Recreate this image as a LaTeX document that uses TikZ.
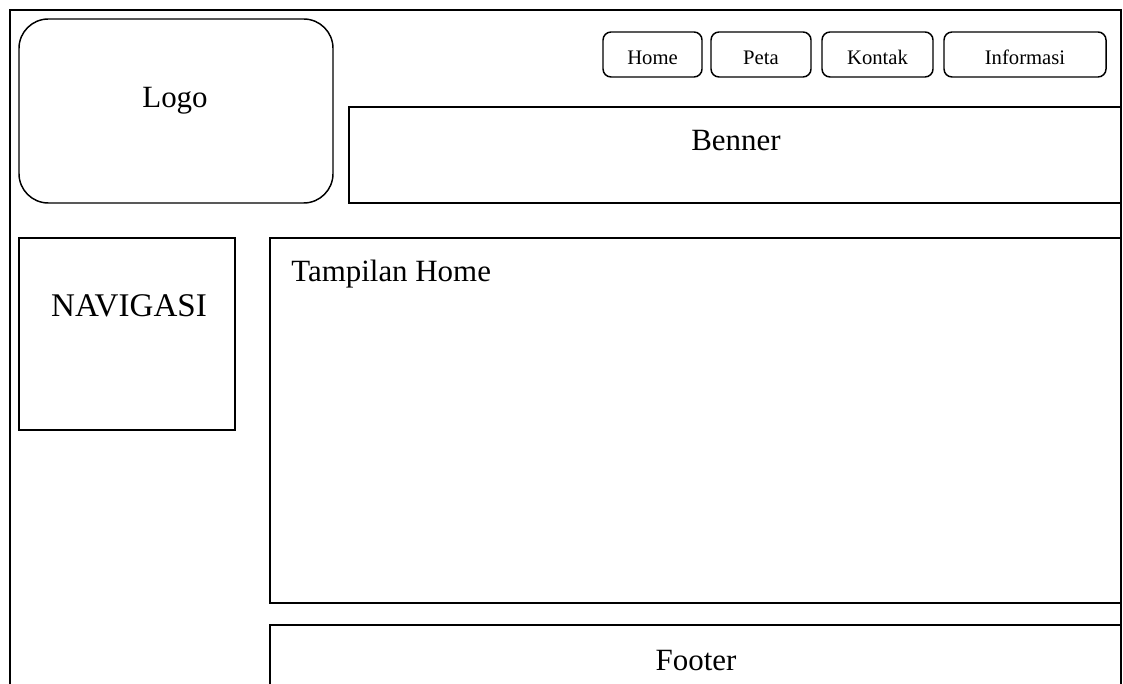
\documentclass[tikz,border=0pt]{standalone}
\usepackage{fontspec}
\setmainfont{Liberation Serif}
\begin{document}
\begin{tikzpicture}[x=0.75pt,y=-0.75pt,
  box/.style={draw=black,line width=1.1pt},
  rbox/.style={draw=black,line width=1.1pt,rounded corners=22pt},
  btn/.style={draw=black,line width=1.1pt,rounded corners=6pt},
  bigtxt/.style={font=\fontsize{23.2}{27}\selectfont,anchor=base,inner sep=0pt},
  btntxt/.style={font=\fontsize{15.5}{18}\selectfont,anchor=base,inner sep=0pt}]
\useasboundingbox (0,0) rectangle (1123,684);
% outer frame (open at bottom)
\draw[box] (10,684) -- (10,10) -- (1121,10) -- (1121,684);
% logo
\draw[rbox] (19,19) rectangle (333,203);
\node[bigtxt] (logo) at (175,108) {Logo};
% menu buttons
\draw[btn] (603,32) rectangle (702,77);
\node[btntxt] (home) at (652.5,65) {Home};
\draw[btn] (711,32) rectangle (811,77);
\node[btntxt] (peta) at (761,65) {Peta};
\draw[btn] (822,32) rectangle (933,77);
\node[btntxt] (kontak) at (877.5,65) {Kontak};
\draw[btn] (944,32) rectangle (1106,77);
\node[btntxt] (info) at (1025,65) {Informasi};
% banner
\draw[box] (349,107) rectangle (1121,203);
\node[bigtxt] (benner) at (736,151) {Benner};
% navigation
\draw[box] (19,238) rectangle (235,430);
\node[bigtxt,font=\fontsize{24.8}{29}\selectfont] (nav) at (129,316) {NAVIGASI};
% content
\draw[box] (270,238) rectangle (1121,603);
\node[bigtxt,anchor=base west] (tampil) at (291,281) {Tampilan Home};
% footer (open at bottom)
\draw[box] (270,684) -- (270,625) -- (1121,625);
\node[bigtxt] (footer) at (696,670) {Footer};
\end{tikzpicture}
\end{document}
